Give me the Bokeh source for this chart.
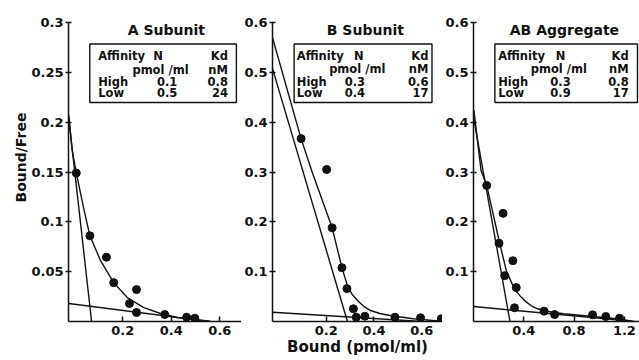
from bokeh.plotting import figure
from bokeh.layouts import row
from bokeh.models import FixedTicker, Label, BoxAnnotation, Range1d, Title
from bokeh.embed import file_html
from bokeh.resources import INLINE

# ---------------- data ----------------
# Panel A: A Subunit
a_bound = [0.009, 0.065, 0.133, 0.163, 0.257, 0.228, 0.257, 0.373, 0.463, 0.497]
a_bf = [0.149, 0.086, 0.0645, 0.039, 0.032, 0.018, 0.009, 0.007, 0.0043, 0.0033]
a_curve_x = [-0.022, -0.008, 0.009, 0.04, 0.065, 0.109, 0.163, 0.219, 0.287, 0.356, 0.424, 0.493, 0.561]
a_curve_y = [0.207, 0.172, 0.149, 0.113, 0.086, 0.061, 0.039, 0.024, 0.014, 0.008, 0.004, 0.002, 0.0003]
a_high_x = [-0.022, 0.072]
a_high_y = [0.204, 0.0]
a_low_x = [-0.022, 0.554]
a_low_y = [0.018, 0.0]

# Panel B: B Subunit
b_bound = [0.095, 0.202, 0.225, 0.266, 0.287, 0.314, 0.326, 0.362, 0.488, 0.595, 0.682]
b_bf = [0.367, 0.305, 0.188, 0.108, 0.066, 0.0255, 0.0086, 0.0106, 0.0086, 0.0074, 0.0054]
b_curve_x = [-0.025, 0.095, 0.139, 0.225, 0.266, 0.289, 0.308, 0.331, 0.356, 0.386, 0.425, 0.468, 0.564, 0.646, 0.70]
b_curve_y = [0.570, 0.367, 0.303, 0.188, 0.108, 0.072, 0.055, 0.042, 0.031, 0.022, 0.016, 0.012, 0.0054, 0.002, 0.0]
b_high_x = [-0.025, 0.289]
b_high_y = [0.508, 0.0]
b_low_x = [-0.025, 0.60]
b_low_y = [0.0187, 0.0]

# Panel C: AB Aggregate
c_bound = [0.105, 0.235, 0.203, 0.313, 0.248, 0.340, 0.326, 0.561, 0.645, 0.947, 1.052, 1.161]
c_bf = [0.273, 0.217, 0.157, 0.122, 0.092, 0.068, 0.0275, 0.0207, 0.014, 0.0134, 0.010, 0.0066]
c_curve_x = [0.003, 0.060, 0.105, 0.156, 0.209, 0.261, 0.313, 0.345, 0.379, 0.415, 0.457, 0.505, 0.561, 0.635, 0.718, 0.926, 1.135, 1.265]
c_curve_y = [0.424, 0.303, 0.273, 0.216, 0.156, 0.102, 0.072, 0.059, 0.049, 0.040, 0.032, 0.026, 0.022, 0.018, 0.0155, 0.0106, 0.0054, 0.0006]
c_high_x = [0.0, 0.29]
c_high_y = [0.41, 0.0]
c_low_x = [0.0, 1.28]
c_low_y = [0.030, 0.0]

# tick values / labels
a_yticks = [0.05, 0.1, 0.15, 0.2, 0.25, 0.3]
a_ylabels = ["0.05", "0.1", "0.15", "0.2", "0.25", "0.3"]
bc_yticks = [0.1, 0.2, 0.3, 0.4, 0.5, 0.6]
bc_ylabels = ["0.1", "0.2", "0.3", "0.4", "0.5", "0.6"]
ab_xticks = [0.2, 0.4, 0.6]
ab_xlabels = ["0.2", "0.4", "0.6"]
c_xticks = [0.4, 0.8, 1.2]
c_xlabels = ["0.4", "0.8", "1.2"]

# tables
titles = ["A Subunit", "B Subunit", "AB Aggregate"]
n_high = ["0.1", "0.3", "0.3"]
n_low = ["0.5", "0.4", "0.9"]
kd_high = ["0.8", "0.6", "0.8"]
kd_low = ["24", "17", "17"]

FONT = "DejaVu Sans"
INK = "#111111"


def make_fig(width, left, xr, yr, yticks, ylabels, xticks, xlabels):
    p = figure(width=width, height=360, output_backend="svg", toolbar_location=None,
               x_range=Range1d(*xr), y_range=Range1d(*yr),
               min_border_left=left, min_border_right=0, min_border_top=22, min_border_bottom=39)
    p.outline_line_color = None
    p.grid.visible = False
    p.background_fill_color = "white"
    p.border_fill_color = "white"
    for ax, ticks, labels in ((p.yaxis[0], yticks, ylabels), (p.xaxis[0], xticks, xlabels)):
        ax.ticker = FixedTicker(ticks=ticks)
        ax.major_label_overrides = {t: s for t, s in zip(ticks, labels)}
        ax.minor_tick_line_color = None
        ax.axis_line_width = 1.5
        ax.axis_line_color = INK
        ax.major_tick_line_color = INK
        ax.major_tick_line_width = 1.5
        ax.major_label_text_font = FONT
        ax.major_label_text_font_style = "bold"
        ax.major_label_text_font_size = "13px"
        ax.major_label_text_color = INK
        ax.axis_label_text_font = FONT
        ax.axis_label_text_font_style = "bold"
        ax.axis_label_text_font_size = "15px"
        ax.axis_label_text_color = INK
        ax.axis_label_standoff = 0
    p.yaxis.major_tick_in = 3
    p.yaxis.major_tick_out = 3
    p.yaxis.major_label_standoff = 2
    p.xaxis.major_tick_in = 5
    p.xaxis.major_tick_out = 0
    p.xaxis.major_label_standoff = 4
    return p


def draw(p, bx, by, cx, cy, hx, hy, lx, ly):
    for xs, ys in ((cx, cy), (hx, hy), (lx, ly)):
        p.line(xs, ys, line_color=INK, line_width=1.4, line_join="round")
    p.scatter(bx, by, size=8, color=INK)


def lab(p, x, y, text, size="11.5px", align="left", baseline="middle"):
    p.add_layout(Label(x=x, y=y, text=text, text_font=FONT, text_font_style="bold",
                       text_font_size=size, text_color=INK, text_align=align,
                       text_baseline=baseline))


def table(p, i, box, rows, xa, xn, xu, xv, xk):
    p.add_layout(BoxAnnotation(left=box[0], right=box[1], top=box[2], bottom=box[3],
                               fill_alpha=0, line_color=INK, line_alpha=1.0, line_width=1.4))
    lab(p, xa, rows[0], "Affinity")
    lab(p, xn, rows[0], "N", align="center")
    lab(p, xk, rows[0], "Kd", align="right")
    lab(p, xu, rows[1], "pmol /ml", align="center")
    lab(p, xk, rows[1], "nM", align="right")
    lab(p, xa, rows[2], "High")
    lab(p, xv, rows[2], n_high[i], align="center")
    lab(p, xk, rows[2], kd_high[i], align="right")
    lab(p, xa, rows[3], "Low")
    lab(p, xv, rows[3], n_low[i], align="center")
    lab(p, xk, rows[3], kd_low[i], align="right")


# Panel A
pA = make_fig(241, 68, (-0.023, 0.689), (0, 0.3), a_yticks, a_ylabels, ab_xticks, ab_xlabels)
draw(pA, a_bound, a_bf, a_curve_x, a_curve_y, a_high_x, a_high_y, a_low_x, a_low_y)
lab(pA, 0.380, 0.2923, titles[0], size="14px", align="center")
table(pA, 0, (0.0646, 0.668, 0.2784, 0.2197), (0.2664, 0.2528, 0.2408, 0.2293),
      0.0992, 0.346, 0.3556, 0.383, 0.633)
pA.add_layout(Title(text="Bound/Free", align="left", offset=119, standoff=0,
                    text_font=FONT, text_font_style="bold", text_font_size="14px",
                    text_color=INK), "left")

# Panel B
pB = make_fig(201, 28, (-0.0247, 0.687), (0, 0.6), bc_yticks, bc_ylabels, ab_xticks, ab_xlabels)
draw(pB, b_bound, b_bf, b_curve_x, b_curve_y, b_high_x, b_high_y, b_low_x, b_low_y)
lab(pB, 0.364, 0.5846, titles[1], size="14px", align="center")
table(pB, 1, (0.0658, 0.643, 0.5569, 0.4395), (0.5328, 0.5057, 0.4816, 0.4586),
      0.077, 0.337, 0.330, 0.320, 0.628)
pB.xaxis.axis_label = "Bound (pmol/ml)"

# Panel C
pC = make_fig(197, 28, (0.0, 1.32), (0, 0.6), bc_yticks, bc_ylabels, c_xticks, c_xlabels)
draw(pC, c_bound, c_bf, c_curve_x, c_curve_y, c_high_x, c_high_y, c_low_x, c_low_y)
lab(pC, 0.723, 0.5846, titles[2], size="14px", align="center")
table(pC, 2, (0.170, 1.304, 0.5569, 0.4395), (0.5328, 0.5057, 0.4816, 0.4586),
      0.196, 0.692, 0.678, 0.692, 1.234)

layout = row(pA, pB, pC, spacing=0)
open("out.html", "w").write(file_html(layout, INLINE))
